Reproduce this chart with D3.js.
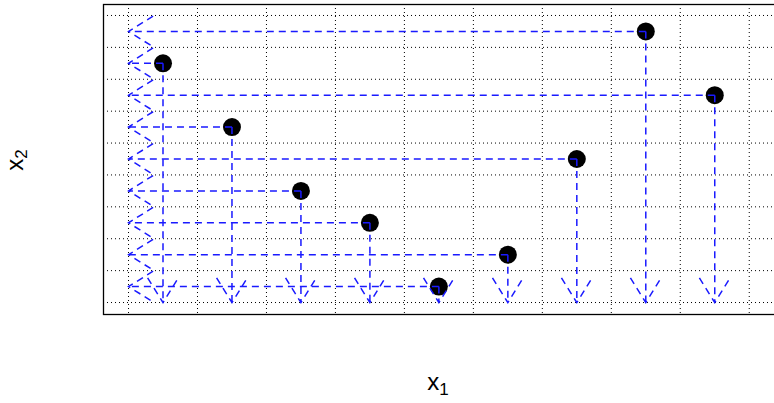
<!DOCTYPE html>
<html>
<meta charset="utf-8">
<title>Ranks</title>
<script src="https://d3js.org/d3.v7.min.js"></script>
<style>
body { margin: 0; background: #fff; }
.grid line { stroke: #000; stroke-width: 1; stroke-dasharray: 1,3; }
.arr { stroke: #1a1aff; stroke-width: 1.5; stroke-dasharray: 7,5; fill: none; }
.lab { font-family: "Liberation Sans", Arial, sans-serif; font-size: 24px; }
</style>
<body>
<svg width="774" height="403"></svg>
<script>
// data
var x1 = [1, 2, 3, 4, 5, 6, 7, 8, 9];
var x2 = [8, 6, 4, 3, 1, 2, 5, 9, 7];
var gridAt = [0.5, 1.5, 2.5, 3.5, 4.5, 5.5, 6.5, 7.5, 8.5, 9.5];

var svg = d3.select("svg"),
    box = {left: 103, top: 4, right: 792, bottom: 314};

var x = d3.scaleLinear().domain([0.13, 10.12]).range([box.left, box.right]),
    y = d3.scaleLinear().domain([0.14, 9.86]).range([box.bottom, box.top]);

var g = svg.append("g");

// dotted grid
var grid = g.append("g").attr("class", "grid");
grid.selectAll(".v").data(gridAt).enter().append("line")
  .attr("x1", function(d){ return x(d); }).attr("x2", function(d){ return x(d); })
  .attr("y1", box.top).attr("y2", box.bottom);
grid.selectAll(".h").data(gridAt).enter().append("line")
  .attr("y1", function(d){ return y(d); }).attr("y2", function(d){ return y(d); })
  .attr("x1", box.left).attr("x2", box.right);

var pts = x1.map(function(d, i){ return {a: d, b: x2[i]}; });

// points
g.selectAll(".pt").data(pts).enter().append("circle")
  .attr("cx", function(d){ return x(d.a); })
  .attr("cy", function(d){ return y(d.b); })
  .attr("r", 9)
  .attr("fill", "#000");

// arrows (dashed, like R arrows())
var headLen = 29, ang = 32 * Math.PI / 180;
function arrow(x0, y0, xe, ye) {
  var th = Math.atan2(ye - y0, xe - x0);
  var p = d3.path();
  p.moveTo(x0, y0); p.lineTo(xe, ye);
  p.moveTo(xe - headLen * Math.cos(th - ang), ye - headLen * Math.sin(th - ang));
  p.lineTo(xe, ye);
  p.lineTo(xe - headLen * Math.cos(th + ang), ye - headLen * Math.sin(th + ang));
  return p.toString();
}
pts.forEach(function(d){
  g.append("path").attr("class", "arr")
    .attr("d", arrow(x(d.a), y(d.b), x(0.5), y(d.b)));
  g.append("path").attr("class", "arr")
    .attr("d", arrow(x(d.a), y(d.b), x(d.a), y(0.5)));
});

// box
svg.append("rect")
  .attr("x", box.left + 0.5).attr("y", box.top + 0.5)
  .attr("width", box.right - box.left).attr("height", box.bottom - box.top)
  .attr("fill", "none").attr("stroke", "#000").attr("stroke-width", 1.3);

// axis labels
var xl = svg.append("text").attr("class", "lab")
  .attr("x", 438).attr("y", 390).attr("text-anchor", "middle");
xl.append("tspan").text("x");
xl.append("tspan").attr("font-size", "17px").attr("dy", 5).text("1");

var yl = svg.append("text").attr("class", "lab")
  .attr("transform", "translate(23,160) rotate(-90)").attr("text-anchor", "middle");
yl.append("tspan").text("x");
yl.append("tspan").attr("font-size", "17px").attr("dy", 4).text("2");
</script>
</body>
</html>
